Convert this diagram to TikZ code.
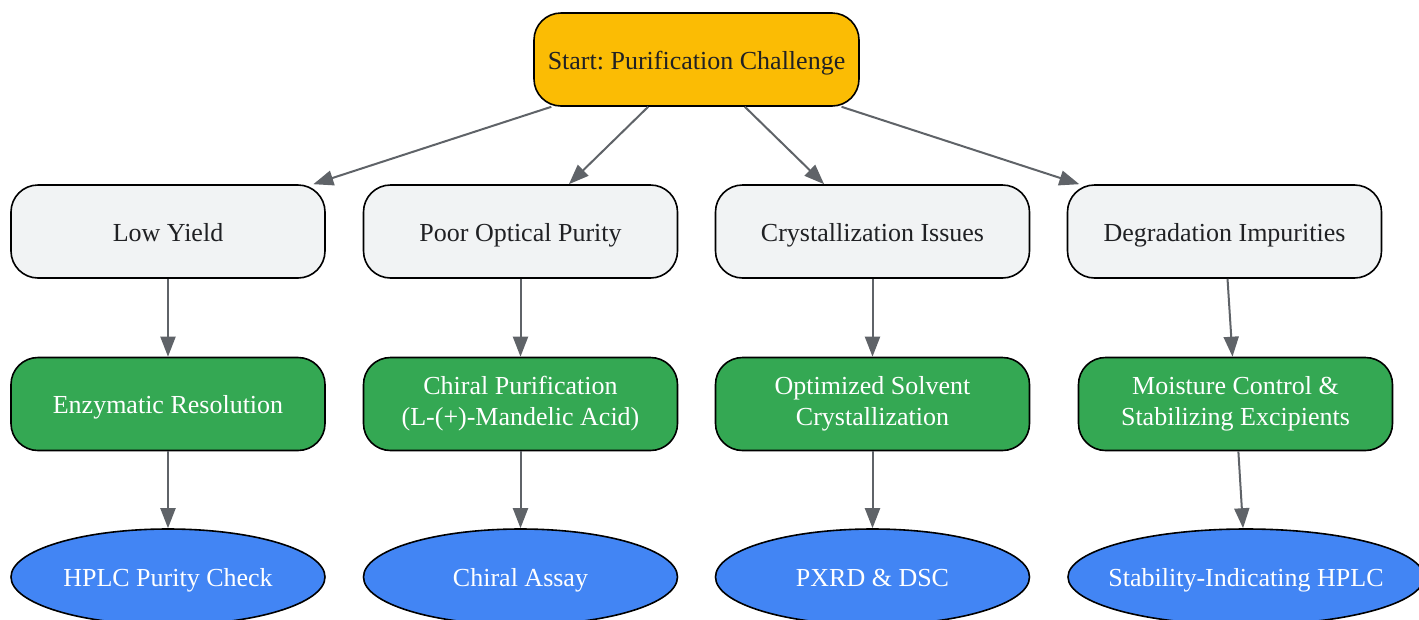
\documentclass[tikz,border=0pt]{standalone}
\usepackage{fontspec}
\setmainfont{Liberation Serif}
\frenchspacing
\usetikzlibrary{arrows.meta,shapes.geometric}
\definecolor{startfill}{HTML}{FBBC04}
\definecolor{issuefill}{HTML}{F1F3F4}
\definecolor{fixfill}{HTML}{34A853}
\definecolor{checkfill}{HTML}{4285F4}
\definecolor{darktext}{HTML}{202124}
\definecolor{edgegray}{HTML}{5F6368}
\newcommand{\lblstrut}{\rule[-6pt]{0pt}{31pt}}
\tikzset{
  base/.style={draw=black, line width=1.6pt, align=center, inner sep=0pt,
    font=\fontsize{26}{31}\selectfont,
    execute at begin node=\lblstrut, execute at end node=\lblstrut},
  boxnode/.style={base, rounded corners=27pt, minimum width=314pt, minimum height=93pt},
  startbox/.style={boxnode, fill=startfill, text=darktext, minimum width=325pt},
  issuebox/.style={boxnode, fill=issuefill, text=darktext},
  fixbox/.style={boxnode, fill=fixfill, text=white},
  checkell/.style={base, ellipse, fill=checkfill, text=white, minimum width=314pt, minimum height=96pt},
  link/.style={draw=edgegray, line width=2pt, -{Triangle[length=20pt,width=15pt]}}
}
\begin{document}
\begin{tikzpicture}[x=1pt,y=-1pt]
\useasboundingbox (0,0) rectangle (1419,619);
\node[startbox] (start) at (696.5,59.5) {Start: Purification Challenge};
\node[issuebox] (low) at (168,231.5) {Low Yield};
\node[issuebox] (optical) at (520.5,231.5) {Poor Optical Purity};
\node[issuebox] (cryst) at (872.5,231.5) {Crystallization Issues};
\node[issuebox] (degr) at (1224.5,231.5) {Degradation Impurities};
\node[fixbox] (enz) at (168,404) {Enzymatic Resolution};
\node[fixbox] (chiral) at (520.5,404) {Chiral Purification\\(L-(+)-Mandelic Acid)};
\node[fixbox] (solvent) at (872.5,404) {Optimized Solvent\\Crystallization};
\node[fixbox] (moist) at (1235.5,404) {Moisture Control \&\\Stabilizing Excipients};
\node[checkell] (hplc) at (168,577) {HPLC Purity Check};
\node[checkell] (assay) at (520.5,577) {Chiral Assay};
\node[checkell] (pxrd) at (872.5,577) {PXRD \& DSC};
\node[checkell, inner xsep=-13pt, minimum width=356pt] (stab) at (1246,577) {Stability-Indicating HPLC};
\draw[link] (start) -- (low);
\draw[link] (start) -- (optical);
\draw[link] (start) -- (cryst);
\draw[link] (start) -- (degr);
\draw[link] (low) -- (enz);
\draw[link] (optical) -- (chiral);
\draw[link] (cryst) -- (solvent);
\draw[link] (degr) -- (moist);
\draw[link] (enz) -- (hplc);
\draw[link] (chiral) -- (assay);
\draw[link] (solvent) -- (pxrd);
\draw[link] (moist) -- (stab);
\end{tikzpicture}
\end{document}
